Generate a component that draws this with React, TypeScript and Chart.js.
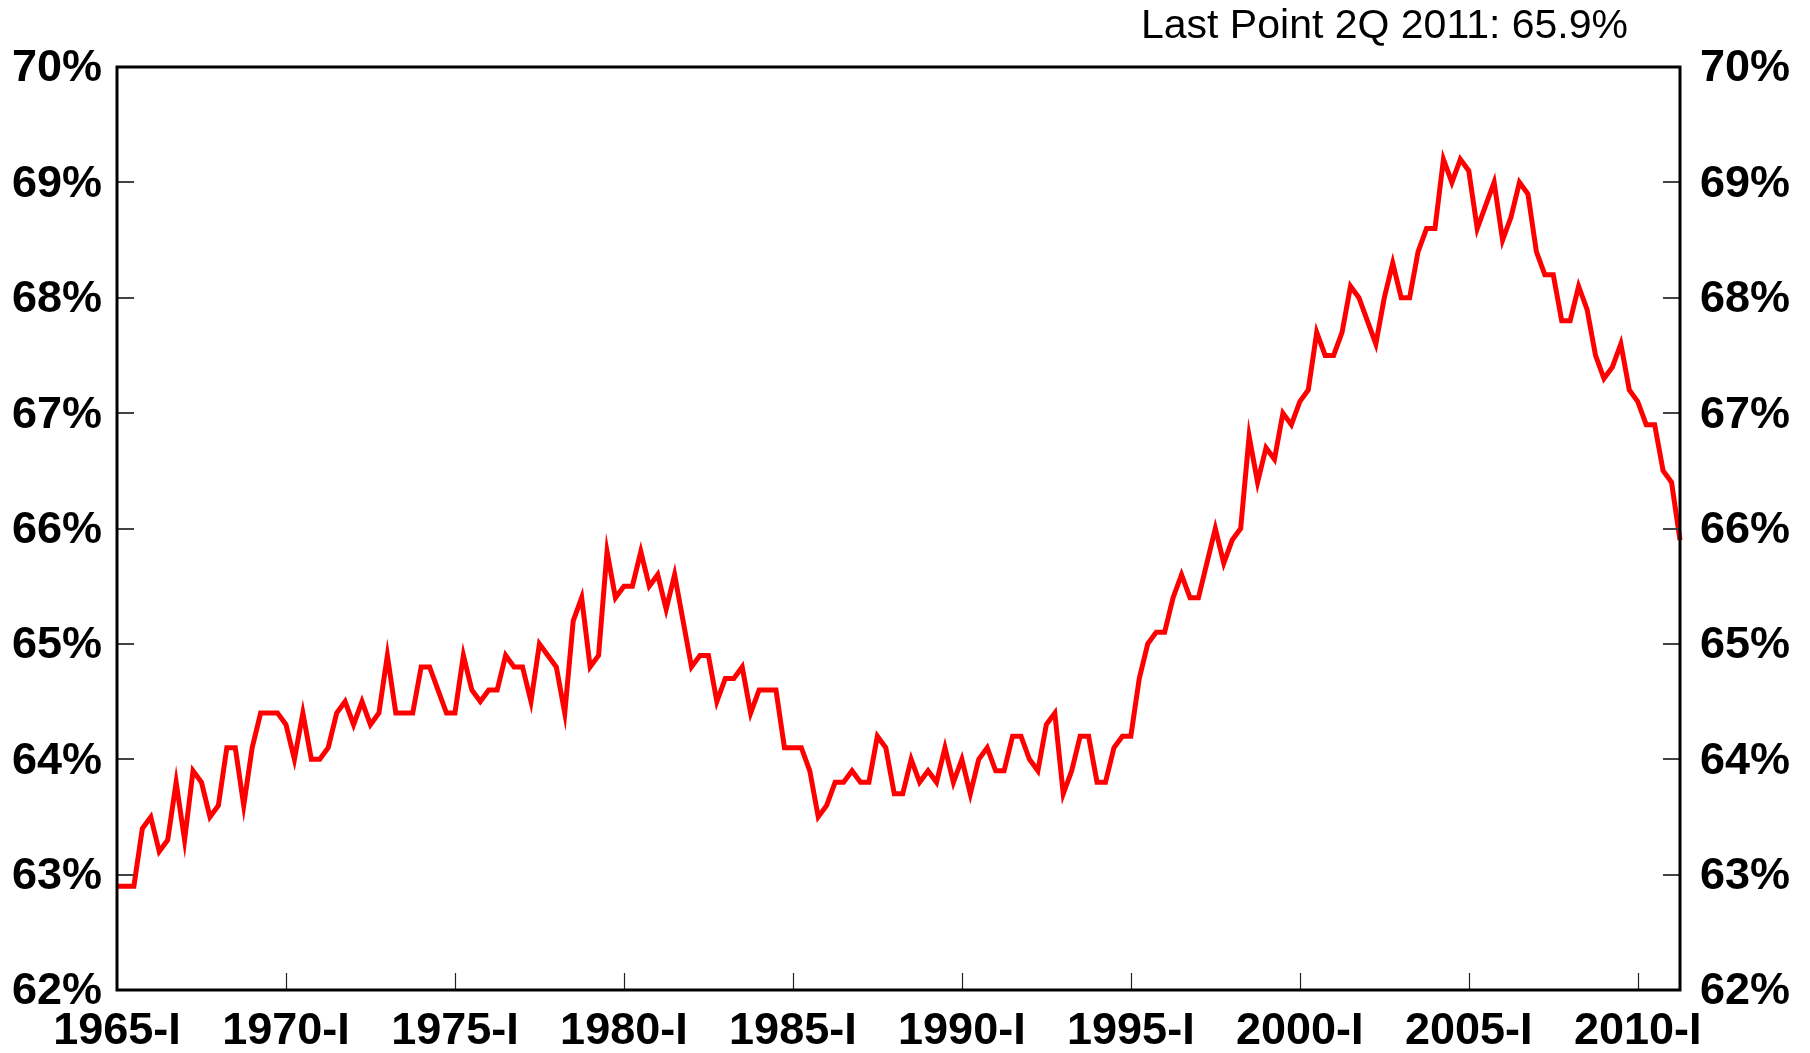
import React, { useEffect, useRef } from "react";
import { Chart, registerables } from "chart.js";

Chart.register(...registerables);

// Homeownership rate, quarterly, 1965-I .. 2011-II (%)
const homeownershipRate: number[] = [
  62.9, 62.9, 62.9, 63.4,
  63.5, 63.2, 63.3, 63.8,
  63.3, 63.9, 63.8, 63.5,
  63.6, 64.1, 64.1, 63.6,
  64.1, 64.4, 64.4, 64.4,
  64.3, 64.0, 64.4, 64.0,
  64.0, 64.1, 64.4, 64.5,
  64.3, 64.5, 64.3, 64.4,
  64.9, 64.4, 64.4, 64.4,
  64.8, 64.8, 64.6, 64.4,
  64.4, 64.9, 64.6, 64.5,
  64.6, 64.6, 64.9, 64.8,
  64.8, 64.5, 65.0, 64.9,
  64.8, 64.4, 65.2, 65.4,
  64.8, 64.9, 65.8, 65.4,
  65.5, 65.5, 65.8, 65.5,
  65.6, 65.3, 65.6, 65.2,
  64.8, 64.9, 64.9, 64.5,
  64.7, 64.7, 64.8, 64.4,
  64.6, 64.6, 64.6, 64.1,
  64.1, 64.1, 63.9, 63.5,
  63.6, 63.8, 63.8, 63.9,
  63.8, 63.8, 64.2, 64.1,
  63.7, 63.7, 64.0, 63.8,
  63.9, 63.8, 64.1, 63.8,
  64.0, 63.7, 64.0, 64.1,
  63.9, 63.9, 64.2, 64.2,
  64.0, 63.9, 64.3, 64.4,
  63.7, 63.9, 64.2, 64.2,
  63.8, 63.8, 64.1, 64.2,
  64.2, 64.7, 65.0, 65.1,
  65.1, 65.4, 65.6, 65.4,
  65.4, 65.7, 66.0, 65.7,
  65.9, 66.0, 66.8, 66.4,
  66.7, 66.6, 67.0, 66.9,
  67.1, 67.2, 67.7, 67.5,
  67.5, 67.7, 68.1, 68.0,
  67.8, 67.6, 68.0, 68.3,
  68.0, 68.0, 68.4, 68.6,
  68.6, 69.2, 69.0, 69.2,
  69.1, 68.6, 68.8, 69.0,
  68.5, 68.7, 69.0, 68.9,
  68.4, 68.2, 68.2, 67.8,
  67.8, 68.1, 67.9, 67.5,
  67.3, 67.4, 67.6, 67.2,
  67.1, 66.9, 66.9, 66.5,
  66.4, 65.9,
];

const startYear = 1965;
const quarterNames = ["I", "II", "III", "IV"];
const categories: string[] = homeownershipRate.map(
  (_, i) => `${startYear + Math.floor(i / 4)}-${quarterNames[i % 4]}`
);

const xTickLabels: string[] = [
  "1965-I", "1970-I", "1975-I", "1980-I", "1985-I",
  "1990-I", "1995-I", "2000-I", "2005-I", "2010-I",
];

const yTickValues: number[] = [62, 63, 64, 65, 66, 67, 68, 69, 70];

const titleText = "Last Point 2Q 2011: 65.9%";

const FONT = "'Liberation Sans', Arial, Helvetica, sans-serif";

const framePlugin = {
  id: "frameAndTicks",
  afterDatasetsDraw(chart: any) {
    const { ctx, chartArea } = chart;
    const { left, right, top, bottom } = chartArea;
    const ys = chart.scales.y;
    const xs = chart.scales.x;
    ctx.save();
    // inward y ticks
    ctx.strokeStyle = "#444";
    ctx.lineWidth = 2;
    yTickValues.forEach((v) => {
      if (v === 62 || v === 70) return;
      const py = Math.round(ys.getPixelForValue(v));
      ctx.beginPath();
      ctx.moveTo(left, py);
      ctx.lineTo(left + 17, py);
      ctx.moveTo(right - 17, py);
      ctx.lineTo(right, py);
      ctx.stroke();
    });
    // inward x ticks
    ctx.strokeStyle = "#222";
    ctx.lineWidth = 1.2;
    xTickLabels.forEach((lab, k) => {
      if (k === 0) return;
      const idx = categories.indexOf(lab);
      const px = Math.round(xs.getPixelForValue(idx)) + 0.5;
      ctx.beginPath();
      ctx.moveTo(px, bottom);
      ctx.lineTo(px, bottom - 17);
      ctx.stroke();
    });
    // frame
    ctx.strokeStyle = "#000";
    ctx.lineWidth = 3;
    ctx.strokeRect(left, top, right - left, bottom - top);
    // title text
    ctx.fillStyle = "#000";
    ctx.font = `41px ${FONT}`;
    ctx.textAlign = "right";
    ctx.textBaseline = "middle";
    ctx.fillText(titleText, 1628, 27);
    ctx.restore();
  },
};

export default function App() {
  const canvasRef = useRef<HTMLCanvasElement | null>(null);

  useEffect(() => {
    const canvas = canvasRef.current;
    if (!canvas) return;
    const tickFont = { family: FONT, size: 45, weight: "bold" as const };
    const chart = new Chart(canvas, {
      type: "line",
      data: {
        labels: categories,
        datasets: [
          {
            data: homeownershipRate,
            borderColor: "#ff0000",
            borderWidth: 5,
            pointRadius: 0,
            tension: 0,
            fill: false,
            yAxisID: "y",
            clip: false as any,
          },
        ],
      },
      options: {
        responsive: false,
        animation: false,
        devicePixelRatio: 1,
        layout: { padding: { top: 67, left: 0, right: 0, bottom: 0 } },
        plugins: {
          legend: { display: false },
          tooltip: { enabled: false },
          title: { display: false },
        },
        scales: {
          x: {
            type: "category",
            offset: false,
            grid: { display: false, drawTicks: false },
            border: { display: false },
            ticks: {
              autoSkip: false,
              maxRotation: 0,
              minRotation: 0,
              padding: 15,
              color: "#000",
              font: tickFont,
              callback: (_v: any, index: number) =>
                xTickLabels.includes(categories[index]) ? categories[index] : "",
            },
            afterFit: (s: any) => {
              s.height = 63;
            },
          },
          y: {
            position: "left",
            min: 62,
            max: 70,
            grid: { display: false, drawTicks: false },
            border: { display: false },
            ticks: {
              stepSize: 1,
              padding: 15,
              labelOffset: 2,
              color: "#000",
              font: tickFont,
              callback: (v: any) => `${v}%`,
            },
            afterFit: (s: any) => {
              s.width = 117;
            },
          },
          y2: {
            position: "right",
            min: 62,
            max: 70,
            grid: { display: false, drawTicks: false },
            border: { display: false },
            ticks: {
              stepSize: 1,
              padding: 20,
              labelOffset: 2,
              color: "#000",
              font: tickFont,
              callback: (v: any) => `${v}%`,
            },
            afterFit: (s: any) => {
              s.width = 130;
            },
          },
        },
      },
      plugins: [framePlugin],
    });
    return () => chart.destroy();
  }, []);

  return (
    <div style={{ position: "fixed", left: 0, top: 0, width: 1810, height: 1053, background: "#fff" }}>
      <canvas ref={canvasRef} width={1810} height={1053} />
    </div>
  );
}
